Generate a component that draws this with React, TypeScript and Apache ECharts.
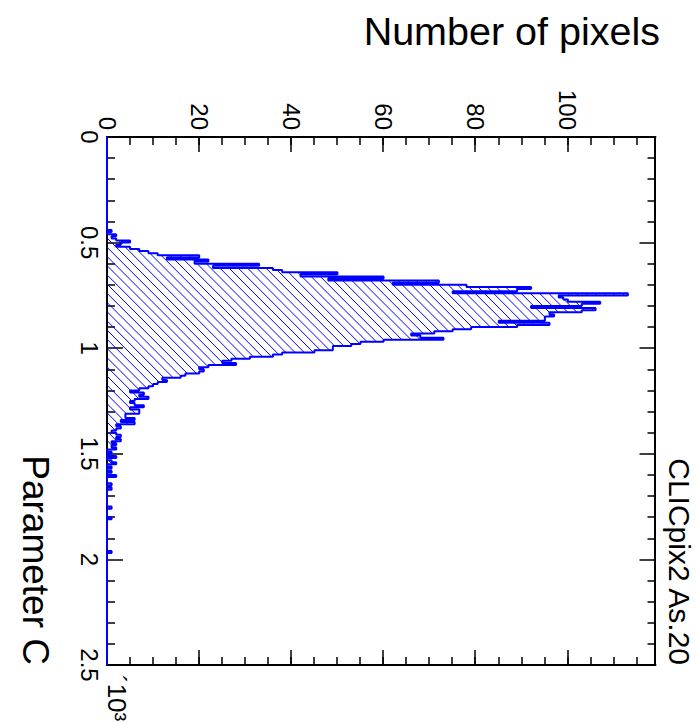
import { useEffect, useRef } from "react";
import * as echarts from "echarts";

// ---- data (histogram drawn in its native orientation, then the canvas is turned 90° clockwise) ----
const BIN_WIDTH = 0.01; // Parameter C (x10^3) per bin
const N_BINS = 250; // 0 .. 2.5
const FIRST_BIN = 44; // index of COUNTS[0]
const COUNTS = [
  1, 0, 2, 1, 2, 5, 3, 2, 5, 7, // 44-53
  9, 11, 20, 13, 22, 19, 33, 23, 36, 38, // 54-63
  50, 42, 60, 48, 72, 62, 78, 92, 89, 75, // 64-73
  113, 98, 99, 100, 107, 103, 92, 106, 103, 96, // 74-83
  97, 95, 95, 85, 96, 89, 79, 75, 71, 66, // 84-93
  68, 73, 60, 55, 53, 49, 49, 45, 38, 36, // 94-103
  31, 27, 25, 28, 22, 20, 21, 20, 17, 16, // 104-113
  12, 13, 11, 10, 9, 7, 5, 8, 7, 9, // 114-123
  6, 5, 6, 8, 5, 7, 7, 4, 4, 6, // 124-133
  3, 6, 2, 3, 2, 1, 2, 3, 2, 3, // 134-143
  1, 2, 1, 2, 0, 1, 0, 2, 0, 1, // 144-153
  2, 0, 1, 0, 1, 0, 2, 0, 0, 0, // 154-163
  1, 0, 1, 0, 0, 0, 0, 0, 0, 0, // 164-173
  0, 1, 0, 0, 0, 0, 1, 0, 0, 0, // 174-183
  0, 0, 0, 0, 0, 0, 0, 0, 0, 0, // 184-193
  0, 0, 1, // 194-196
];
const X_MIN = 0;
const X_MAX = 2.5;
const X_MAJOR = 0.5;
const Y_MIN = 0;
const Y_MAX = 119;
const Y_MAJOR = 20;
const Y_MINOR = 5;
const X_TITLE = "Parameter C";
const Y_TITLE = "Number of pixels";
const TAG = "CLICpix2 As.20";
const X_EXPONENT = "´10³";

const FONT = "'Liberation Sans', Arial, Helvetica, sans-serif";
const BLUE = "#0000ff";

function binValue(k: number): number {
  const j = k - FIRST_BIN;
  return j >= 0 && j < COUNTS.length ? COUNTS[j] : 0;
}

function stepPoints(): number[][] {
  const pts: number[][] = [];
  for (let k = 0; k < N_BINS; k++) {
    const v = binValue(k);
    pts.push([k * BIN_WIDTH, v], [(k + 1) * BIN_WIDTH, v]);
  }
  return pts;
}

function hatchRenderItem(_params: any, api: any) {
  const yBot = api.coord([X_MIN, 0])[1];
  const bins: { x0: number; x1: number; yT: number }[] = [];
  for (let j = 0; j < COUNTS.length; j++) {
    const v = COUNTS[j];
    if (v <= 0) continue;
    const k = FIRST_BIN + j;
    const x0 = api.coord([k * BIN_WIDTH, 0])[0];
    const x1 = api.coord([(k + 1) * BIN_WIDTH, 0])[0];
    const yT = api.coord([k * BIN_WIDTH, v])[1];
    bins.push({ x0, x1, yT });
  }
  let cMin = Infinity;
  let cMax = -Infinity;
  for (const b of bins) {
    cMin = Math.min(cMin, b.x0 + b.yT);
    cMax = Math.max(cMax, b.x1 + yBot);
  }
  const step = 9.2;
  const segs: any[] = [];
  for (let c = Math.ceil(cMin / step) * step; c <= cMax; c += step) {
    let cur: any = null;
    for (const b of bins) {
      const xa = Math.max(b.x0, c - yBot);
      const xb = Math.min(b.x1, c - b.yT);
      if (xa < xb) {
        if (cur && Math.abs(cur.x2 - xa) < 0.01) {
          cur.x2 = xb;
          cur.y2 = c - xb;
        } else {
          if (cur) segs.push(cur);
          cur = { x1: xa, y1: c - xa, x2: xb, y2: c - xb };
        }
      } else if (cur) {
        segs.push(cur);
        cur = null;
      }
    }
    if (cur) segs.push(cur);
  }
  return {
    type: "group",
    children: segs.map((s) => ({
      type: "line",
      shape: s,
      style: { stroke: BLUE, lineWidth: 1 },
      silent: true,
    })),
  };
}

function makeOption(): any {
  const tickStyle = { color: "#000", width: 1.5 };
  const lineStyle = { color: "#000", width: 2 };
  const labelStyle = { color: "#000", fontSize: 24, fontFamily: FONT };
  return {
    animation: false,
    backgroundColor: "#fff",
    grid: { left: 137, right: 58, top: 41.5, bottom: 107, containLabel: false },
    xAxis: [
      {
        type: "value",
        position: "bottom",
        min: X_MIN,
        max: X_MAX,
        interval: X_MAJOR,
        axisLine: { show: true, onZero: false, lineStyle },
        axisTick: { show: true, inside: true, length: 16, lineStyle: tickStyle },
        minorTick: { show: true, splitNumber: 5, length: 8, lineStyle: tickStyle },
        axisLabel: { ...labelStyle, margin: 6, formatter: (v: number) => String(v) },
        splitLine: { show: false },
      },
      {
        type: "value",
        position: "top",
        min: X_MIN,
        max: X_MAX,
        interval: X_MAJOR,
        axisLine: { show: true, onZero: false, lineStyle },
        axisTick: { show: true, inside: true, length: 16, lineStyle: tickStyle },
        minorTick: { show: true, splitNumber: 5, length: 8, lineStyle: tickStyle },
        axisLabel: { show: false },
        splitLine: { show: false },
      },
    ],
    yAxis: [
      {
        type: "value",
        position: "left",
        min: Y_MIN,
        max: Y_MAX,
        interval: Y_MAJOR,
        axisLine: { show: true, onZero: false, lineStyle },
        axisTick: { show: true, inside: true, length: 15, lineStyle: tickStyle },
        axisLabel: { ...labelStyle, margin: 7, showMaxLabel: false },
        splitLine: { show: false },
      },
      {
        type: "value",
        position: "left",
        min: Y_MIN,
        max: Y_MAX,
        interval: Y_MINOR,
        axisLine: { show: false, onZero: false },
        axisTick: { show: true, inside: true, length: 8, lineStyle: tickStyle },
        axisLabel: { show: false },
        splitLine: { show: false },
      },
      {
        type: "value",
        position: "right",
        min: Y_MIN,
        max: Y_MAX,
        interval: Y_MAJOR,
        axisLine: { show: true, onZero: false, lineStyle },
        axisTick: { show: true, inside: true, length: 15, lineStyle: tickStyle },
        axisLabel: { show: false },
        splitLine: { show: false },
      },
      {
        type: "value",
        position: "right",
        min: Y_MIN,
        max: Y_MAX,
        interval: Y_MINOR,
        axisLine: { show: false, onZero: false },
        axisTick: { show: true, inside: true, length: 8, lineStyle: tickStyle },
        axisLabel: { show: false },
        splitLine: { show: false },
      },
    ],
    series: [
      {
        type: "custom",
        coordinateSystem: "cartesian2d",
        xAxisIndex: 0,
        yAxisIndex: 0,
        data: [[0, 0]],
        renderItem: hatchRenderItem,
        silent: true,
        z: 2,
      },
      {
        type: "line",
        xAxisIndex: 0,
        yAxisIndex: 0,
        data: stepPoints(),
        symbol: "none",
        showSymbol: false,
        lineStyle: { color: BLUE, width: 2 },
        silent: true,
        z: 3,
      },
    ],
    graphic: [
      {
        type: "text",
        x: 31,
        y: 37,
        rotation: Math.PI / 2,
        style: { text: Y_TITLE, font: `39.5px ${FONT}`, fill: "#000", align: "right", verticalAlign: "middle" },
      },
      {
        type: "text",
        x: 665,
        y: 662,
        style: { text: X_TITLE, font: `37px ${FONT}`, fill: "#000", align: "right", verticalAlign: "middle" },
      },
      {
        type: "text",
        x: 665,
        y: 18,
        style: { text: TAG, font: `30px ${FONT}`, fill: "#000", align: "right", verticalAlign: "middle" },
      },
      {
        type: "text",
        x: 675,
        y: 580,
        style: { text: X_EXPONENT, font: `26px ${FONT}`, fill: "#000", align: "left", verticalAlign: "middle" },
      },
    ],
  };
}

export default function App() {
  const ref = useRef<HTMLDivElement>(null);
  useEffect(() => {
    if (!ref.current) return;
    const chart = echarts.init(ref.current, null, { renderer: "svg" });
    chart.setOption(makeOption());
    return () => chart.dispose();
  }, []);
  return (
    <div
      style={{
        position: "fixed",
        left: 0,
        top: 0,
        width: 697,
        height: 723,
        overflow: "hidden",
        background: "#fff",
      }}
    >
      <div
        ref={ref}
        style={{
          position: "absolute",
          left: 0,
          top: 0,
          width: 723,
          height: 697,
          transformOrigin: "0 0",
          transform: "translate(697px, 0px) rotate(90deg)",
        }}
      />
    </div>
  );
}
